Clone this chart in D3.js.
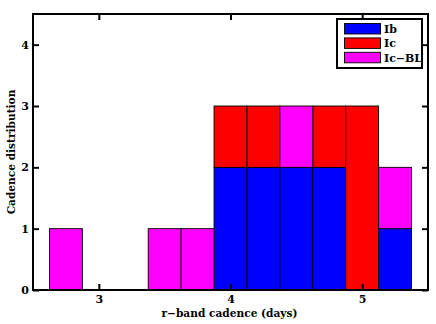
<!DOCTYPE html>
<html>
<head>
<meta charset="utf-8">
<script src="https://cdn.jsdelivr.net/npm/d3@7"></script>
<style>
  body { margin: 0; background: #fff; }
  svg text { font-family: "DejaVu Serif", serif; font-weight: bold; fill: #000; }
</style>
</head>
<body>
<svg id="chart" width="436" height="324"></svg>
<script>
// bin centres (days) and counts per type
let binCenters = [2.75, 3.0, 3.25, 3.5, 3.75, 4.0, 4.25, 4.5, 4.75, 5.0, 5.25]
let ibCounts   = [0, 0, 0, 0, 0, 2, 2, 2, 2, 0, 1]
let icCounts   = [0, 0, 0, 0, 0, 1, 1, 0, 1, 3, 0]
let iclCounts  = [1, 0, 0, 1, 1, 0, 0, 1, 0, 0, 1]
let seriesNames = ['Ib', 'Ic', 'Ic\u2212BL']
let seriesColors = ['#0000ff', '#ff0000', '#ff00ff']
let xTicks = [3, 4, 5]
let yTicks = [0, 1, 2, 3, 4]
let binWidth = 0.25

let svg = d3.select('#chart')
let margin = { left: 33, right: 8, top: 14, bottom: 34 }
let W = 436, H = 324
let x = d3.scaleLinear().domain([2.5, 5.5]).range([margin.left, W - margin.right])
let y = d3.scaleLinear().domain([0, 4.5]).range([H - margin.bottom, margin.top])

let rows = binCenters.map((c, i) => ({ c, Ib: ibCounts[i], Ic: icCounts[i], IcBL: iclCounts[i] }))
let stack = d3.stack().keys(['Ib', 'Ic', 'IcBL'])(rows)

let bars = svg.append('g')
stack.forEach((layer, k) => {
  bars.selectAll(null)
    .data(layer.filter(d => d[1] > d[0]))
    .join('rect')
    .attr('x', d => x(d.data.c - binWidth / 2))
    .attr('width', d => x(d.data.c + binWidth / 2) - x(d.data.c - binWidth / 2))
    .attr('y', d => y(d[1]))
    .attr('height', d => y(d[0]) - y(d[1]))
    .attr('fill', seriesColors[k])
    .attr('stroke', '#000')
    .attr('stroke-width', 0.9)
})

// axes, ticks pointing inward on all four sides
let tickLen = 6
let fs = 11
svg.append('g').attr('transform', `translate(0,${y(0)})`)
  .call(d3.axisBottom(x).tickValues(xTicks).tickSize(-tickLen).tickPadding(5).tickFormat(d3.format('d')))
svg.append('g').attr('transform', `translate(0,${y(4.5)})`)
  .call(d3.axisTop(x).tickValues(xTicks).tickSize(-tickLen).tickFormat(''))
svg.append('g').attr('transform', `translate(${x(2.5)},0)`)
  .call(d3.axisLeft(y).tickValues(yTicks).tickSize(-tickLen).tickPadding(4).tickFormat(d3.format('d')))
svg.append('g').attr('transform', `translate(${x(5.5)},0)`)
  .call(d3.axisRight(y).tickValues(yTicks).tickSize(-tickLen).tickFormat(''))

svg.selectAll('.domain').remove()
svg.selectAll('.tick line').attr('stroke', '#000').attr('stroke-width', 2)
svg.selectAll('.tick text').style('font-size', fs + 'px')

svg.append('rect')
  .attr('x', x(2.5)).attr('y', y(4.5))
  .attr('width', x(5.5) - x(2.5)).attr('height', y(0) - y(4.5))
  .attr('fill', 'none').attr('stroke', '#000').attr('stroke-width', 2)

// axis titles
svg.append('text')
  .attr('x', (x(2.5) + x(5.5)) / 2 - 1).attr('y', 317)
  .attr('text-anchor', 'middle').style('font-size', '10.6px')
  .text('r\u2212band cadence (days)')
svg.append('text')
  .attr('transform', `translate(14.5,${(y(0) + y(4.5)) / 2}) rotate(-90)`)
  .attr('text-anchor', 'middle').style('font-size', '10.6px')
  .text('Cadence distribution')

// legend
let lg = svg.append('g').attr('transform', 'translate(337,19)')
lg.append('rect').attr('width', 85).attr('height', 49)
  .attr('fill', '#fff').attr('stroke', '#000').attr('stroke-width', 2)
seriesNames.forEach((name, i) => {
  lg.append('rect')
    .attr('x', 7.5).attr('y', 4.5 + i * 14.4)
    .attr('width', 36).attr('height', 10.5)
    .attr('fill', seriesColors[i]).attr('stroke', '#000').attr('stroke-width', 0.9)
  lg.append('text')
    .attr('x', 47).attr('y', 14 + i * 14.4)
    .style('font-size', '11px')
    .text(name)
})
</script>
</body>
</html>
